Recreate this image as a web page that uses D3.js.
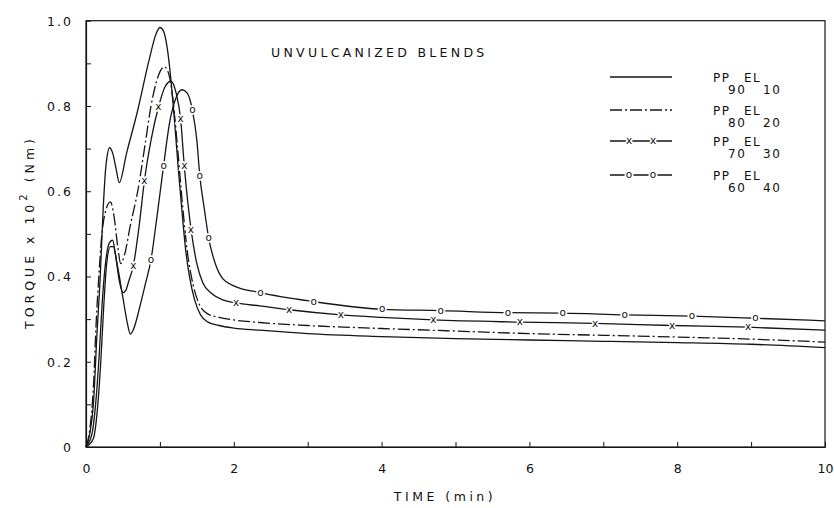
<!doctype html>
<html>
<head>
    <meta charset="utf-8">
    <script src="https://d3js.org/d3.v7.min.js"></script>
    <style>
        body { margin: 0; background: #fff; }
        text { font-family: "DejaVu Sans", sans-serif; fill: #111; }
    </style>
</head>
<body>
    <script>
        // time (min), torque x 10^2 (Nm)
        var pp90 = [[0,0],[0.05,0.03],[0.1,0.1],[0.15,0.27],[0.19,0.39],[0.23,0.55],[0.27,0.66],[0.32,0.702],[0.36,0.69],[0.41,0.65],[0.45,0.62],
                    [0.55,0.69],[0.7,0.79],[0.85,0.905],[0.95,0.97],[1.0,0.984],[1.05,0.975],[1.1,0.935],[1.15,0.86],[1.2,0.76],[1.25,0.65],
                    [1.3,0.55],[1.35,0.46],[1.4,0.4],[1.47,0.345],[1.55,0.31],[1.65,0.293],[1.8,0.285],[2.0,0.279],[2.35,0.274],[3,0.266],
                    [4,0.259],[5,0.254],[6,0.251],[7,0.248],[8,0.245],[9,0.241],[10,0.233]];
        var pp80 = [[0,0],[0.05,0.04],[0.1,0.14],[0.14,0.3],[0.17,0.39],[0.21,0.49],[0.26,0.55],[0.33,0.575],[0.38,0.54],[0.43,0.47],[0.47,0.43],
                    [0.52,0.45],[0.6,0.52],[0.7,0.6],[0.8,0.71],[0.88,0.8],[0.95,0.855],[1.0,0.88],[1.06,0.892],[1.12,0.875],[1.18,0.81],
                    [1.24,0.7],[1.3,0.58],[1.37,0.46],[1.45,0.38],[1.52,0.34],[1.63,0.314],[1.8,0.304],[2.0,0.298],[2.35,0.292],[3,0.285],
                    [4,0.278],[5,0.272],[6,0.266],[7,0.262],[8,0.258],[9,0.253],[10,0.246]];
        var pp70 = [[0,0],[0.08,0.03],[0.13,0.1],[0.18,0.22],[0.22,0.34],[0.27,0.44],[0.32,0.48],[0.36,0.485],[0.4,0.45],[0.45,0.39],[0.5,0.362],
                    [0.54,0.368],[0.58,0.39],[0.64,0.425],[0.72,0.52],[0.79,0.624],[0.88,0.72],[0.98,0.797],[1.07,0.845],[1.15,0.858],
                    [1.22,0.83],[1.28,0.77],[1.33,0.66],[1.38,0.57],[1.43,0.5],[1.5,0.43],[1.58,0.385],[1.7,0.36],[1.85,0.345],[2.03,0.338],
                    [2.35,0.331],[2.75,0.322],[3.45,0.31],[4,0.304],[4.7,0.298],[5.87,0.293],[6.89,0.29],[7.93,0.285],[8.96,0.281],[10,0.274]];
        var pp60 = [[0,0],[0.1,0.02],[0.15,0.08],[0.2,0.2],[0.24,0.33],[0.28,0.43],[0.33,0.47],[0.37,0.47],[0.42,0.43],[0.5,0.35],[0.56,0.29],
                    [0.6,0.265],[0.64,0.275],[0.73,0.33],[0.8,0.38],[0.88,0.44],[0.96,0.54],[1.05,0.66],[1.13,0.76],[1.22,0.82],[1.3,0.838],
                    [1.37,0.83],[1.44,0.79],[1.5,0.72],[1.54,0.636],[1.6,0.56],[1.66,0.49],[1.75,0.43],[1.85,0.395],[2.0,0.378],[2.36,0.362],
                    [3.08,0.341],[4.01,0.323],[4.8,0.32],[5.71,0.315],[6.45,0.314],[7.29,0.31],[8.2,0.307],[9.06,0.302],[10,0.296]];

        // marker glyph positions
        var marksX = [[0.64,0.425],[0.79,0.624],[0.98,0.797],[1.28,0.77],[1.33,0.66],[1.42,0.51],[2.03,0.338],[2.75,0.322],[3.45,0.31],
                      [4.7,0.298],[5.87,0.293],[6.89,0.29],[7.93,0.285],[8.96,0.281]];
        var marksO = [[0.88,0.44],[1.05,0.66],[1.44,0.79],[1.54,0.636],[1.66,0.49],[2.36,0.362],[3.08,0.341],[4.01,0.323],[4.8,0.32],
                      [5.71,0.315],[6.45,0.314],[7.29,0.31],[8.2,0.307],[9.06,0.302]];

        var xTicks = [0,1,2,3,4,5,6,7,8,9,10];
        var xTickLabels = {0:"0", 2:"2", 4:"4", 6:"6", 8:"8", 10:"10"};
        var yTicks = [0,0.1,0.2,0.3,0.4,0.5,0.6,0.7,0.8,0.9,1.0];
        var yTickLabels = {"0":"0", "0.2":"0.2", "0.4":"0.4", "0.6":"0.6", "0.8":"0.8", "1":"1.0"};

        var legendNames = [["90","10"],["80","20"],["70","30"],["60","40"]];

        var width = 834, height = 508;
        var x = d3.scaleLinear().domain([0, 10]).range([86, 825]);
        var y = d3.scaleLinear().domain([0, 1]).range([447, 20.7]);

        var svg = d3.select("body").append("svg")
                    .attr("width", width)
                    .attr("height", height);

        var ink = "#151515";

        // frame
        svg.append("rect")
           .attr("x", x(0)).attr("y", y(1))
           .attr("width", x(10) - x(0)).attr("height", y(0) - y(1))
           .attr("fill", "none").attr("stroke", ink).attr("stroke-width", 1.2);

        // axes, ticks pointing inward
        var xAxis = d3.axisBottom(x).tickValues(xTicks).tickSizeInner(-5).tickSizeOuter(0).tickPadding(20)
                      .tickFormat(function(d){ return xTickLabels[d] || ""; });
        var gx = svg.append("g").attr("transform", "translate(0," + y(0) + ")").call(xAxis);

        var yAxis = d3.axisLeft(y).tickValues(yTicks).tickSizeInner(-5).tickSizeOuter(0).tickPadding(13)
                      .tickFormat(function(d){ return yTickLabels[String(+d.toFixed(1))] || ""; });
        var gy = svg.append("g").attr("transform", "translate(" + x(0) + ",0)").call(yAxis);

        [gx, gy].forEach(function(g){
            g.select(".domain").attr("stroke", ink).attr("stroke-width", 1.2);
            g.selectAll(".tick line").attr("stroke", ink).attr("stroke-width", 1);
            g.selectAll(".tick text").attr("fill", ink).style("font-size", "12.5px")
             .style("font-family", "DejaVu Sans, sans-serif");
        });
        gy.selectAll(".tick text").attr("letter-spacing", "2px").attr("dy", "0.35em");
        gx.selectAll(".tick text").attr("dy", "0.45em");

        // curves
        var line = d3.line()
                     .x(function(d){ return x(d[0]); })
                     .y(function(d){ return y(d[1]); })
                     .curve(d3.curveMonotoneX);

        var series = [
            { data: pp90, dash: null },
            { data: pp80, dash: "12,3,2,3" },
            { data: pp70, dash: null },
            { data: pp60, dash: null }
        ];

        svg.selectAll("path.curve")
           .data(series)
           .enter()
           .append("path")
           .attr("class", "curve")
           .attr("d", function(d){ return line(d.data); })
           .attr("fill", "none")
           .attr("stroke", ink)
           .attr("stroke-width", 1.3)
           .attr("stroke-dasharray", function(d){ return d.dash; });

        // "x" and "o" marks as text, with a white halo that breaks the line
        function styleMark(sel){
            return sel.attr("dy", "0.3em")
                      .attr("text-anchor", "middle")
                      .style("font-size", "10.5px")
                      .style("paint-order", "stroke")
                      .attr("stroke", "#fff")
                      .attr("stroke-width", 3.5)
                      .attr("fill", ink);
        }

        function drawMarks(data, glyph){
            styleMark(svg.selectAll(null)
               .data(data)
               .enter()
               .append("text")
               .attr("x", function(d){ return x(d[0]); })
               .attr("y", function(d){ return y(d[1]); }))
               .text(glyph);
        }
        drawMarks(marksX, "x");
        drawMarks(marksO, "o");

        // title
        svg.append("text")
           .attr("x", 271).attr("y", 57)
           .attr("letter-spacing", "3.3px")
           .style("font-size", "12.5px")
           .text("UNVULCANIZED BLENDS");

        // legend
        var legY = [77, 110, 141, 175];
        var legend = svg.selectAll("g.leg")
                        .data(series)
                        .enter()
                        .append("g")
                        .attr("class", "leg")
                        .attr("transform", function(d, i){ return "translate(0," + legY[i] + ")"; });

        legend.append("line")
              .attr("x1", 610).attr("x2", 672)
              .attr("stroke", ink).attr("stroke-width", 1.3)
              .attr("stroke-dasharray", function(d){ return d.dash; });

        legend.each(function(d, i){
            if (i < 2) return;
            var g = d3.select(this);
            [629, 653].forEach(function(px){
                styleMark(g.append("text").attr("x", px)).text(i === 2 ? "x" : "o");
            });
        });

        var lab = legend.append("g").style("font-size", "12px").attr("letter-spacing", "1.5px");
        lab.append("text").attr("x", 713).attr("y", 5).text("PP");
        lab.append("text").attr("x", 744).attr("y", 5).text("EL");
        lab.append("text").attr("x", 728).attr("y", 17).text(function(d, i){ return legendNames[i][0]; });
        lab.append("text").attr("x", 763).attr("y", 17).text(function(d, i){ return legendNames[i][1]; });

        // axis titles
        svg.append("text")
           .attr("x", 445).attr("y", 501)
           .attr("text-anchor", "middle")
           .attr("letter-spacing", "3.5px")
           .style("font-size", "12.5px")
           .text("TIME (min)");

        var yt = svg.append("text")
                    .attr("transform", "translate(34,232) rotate(-90)")
                    .attr("text-anchor", "middle")
                    .attr("letter-spacing", "4px")
                    .style("font-size", "12.5px");
        yt.append("tspan").text("TORQUE x 10");
        yt.append("tspan").attr("dy", "-7").style("font-size", "10px").text("2");
        yt.append("tspan").attr("dy", "7").text(" (Nm)");
    </script>
</body>
</html>
